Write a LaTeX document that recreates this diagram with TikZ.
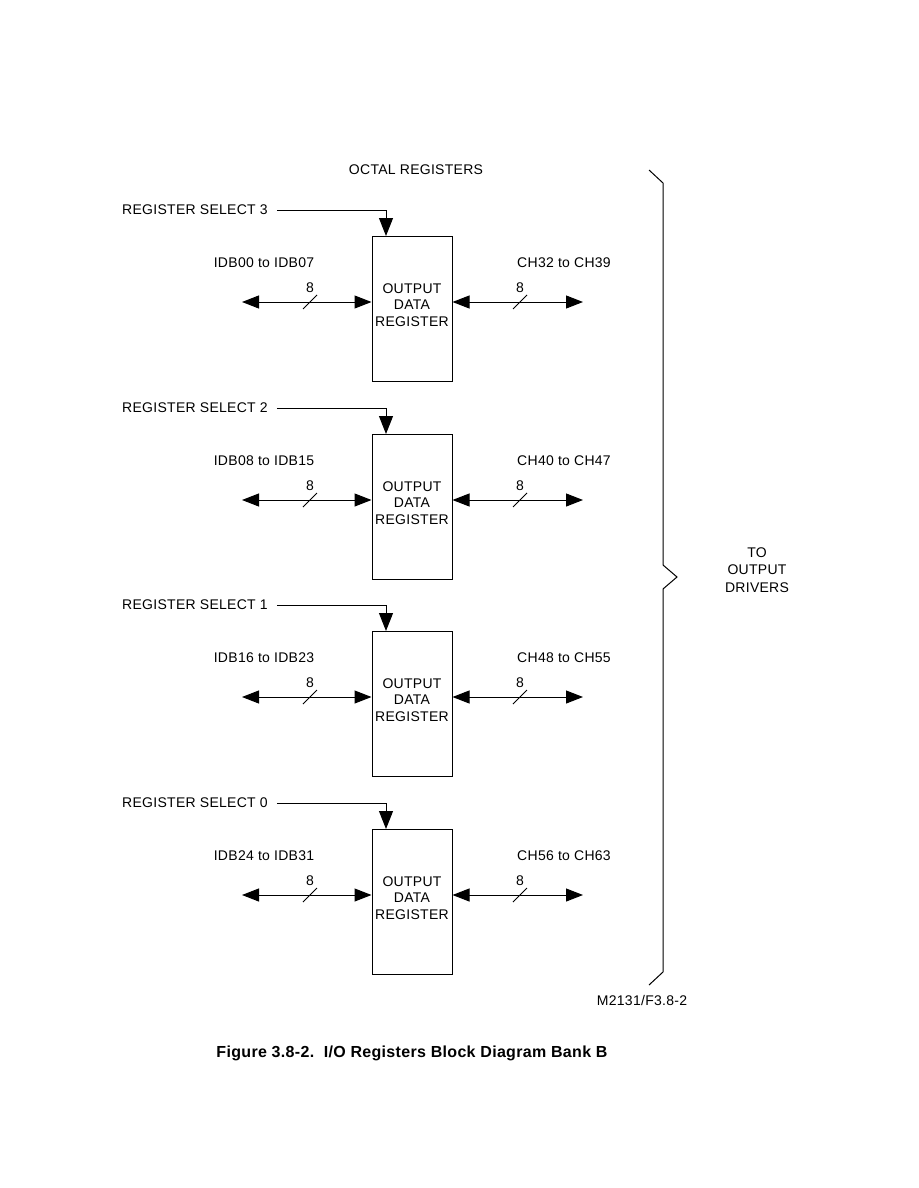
\documentclass[tikz,border=0pt]{standalone}
\usepackage{fontspec}
\setmainfont{Liberation Sans}[LetterSpace=2]
\usetikzlibrary{arrows.meta}
\tikzset{
  lbl/.style={font=\fontsize{14}{16}\selectfont, inner sep=0pt},
  regbox/.style={draw, line width=1pt, minimum width=80pt, minimum height=145pt, inner sep=0pt},
  bus/.style={line width=1pt, {Triangle[length=17pt,width=13pt]}-{Triangle[length=17pt,width=13pt]}},
  sel/.style={line width=1pt, -{Triangle[length=18pt,width=14pt]}},
  tick/.style={line width=0.8pt},
  brace/.style={line width=1pt}
}
\begin{document}
\begin{tikzpicture}[x=1pt,y=-1pt]
\useasboundingbox (0,0) rectangle (918,1188);
\node[lbl] (title) at (416,170) {OCTAL REGISTERS};
\foreach \i/\dy/\n/\ia/\ib/\ca/\cb in {1/0/3/00/07/32/39, 2/198/2/08/15/40/47, 3/395/1/16/23/48/55, 4/593/0/24/31/56/63} {
  \node[regbox] (b\i) at (412,308.5+\dy) {};
  \node[lbl, align=center, font=\fontsize{14}{16.5}\selectfont] (t\i) at (412,305+\dy) {OUTPUT\\DATA\\REGISTER};
  \node[lbl, anchor=west] (s\i) at (122,210+\dy) {REGISTER SELECT \n};
  \coordinate (st\i) at (386,236+\dy);
  \draw[sel] ([xshift=9pt]s\i.east) -| (st\i);
  \coordinate (l\i) at (242,302+\dy);
  \coordinate (r\i) at (583,302+\dy);
  \draw[bus] (l\i) -- (b\i.west |- l\i);
  \draw[bus] (b\i.east |- r\i) -- (r\i);
  \draw[tick] (303,309+\dy) -- (317,295+\dy);
  \draw[tick] (513,309+\dy) -- (527,295+\dy);
  \node[lbl] (nl\i) at (310,288+\dy) {8};
  \node[lbl] (nr\i) at (520,288+\dy) {8};
  \node[lbl] (il\i) at (264,263+\dy) {IDB\ia{} to IDB\ib};
  \node[lbl] (cl\i) at (564,263+\dy) {CH\ca{} to CH\cb};
}
\draw[brace] (649,170) -- (663,183) -- (663,565) -- (677,577) -- (663,589) -- (663,972) -- (649,985);
\node[lbl, align=center, font=\fontsize{14}{17.5}\selectfont] (drv) at (757,570) {TO\\OUTPUT\\DRIVERS};
\node[lbl] (ref) at (642,1000) {M2131/F3.8-2};
\node[inner sep=0pt, font=\fontsize{16}{18}\selectfont\bfseries] (cap) at (412,1053) {Figure 3.8-2.\ \ I/O Registers Block Diagram Bank B};
\end{tikzpicture}
\end{document}
